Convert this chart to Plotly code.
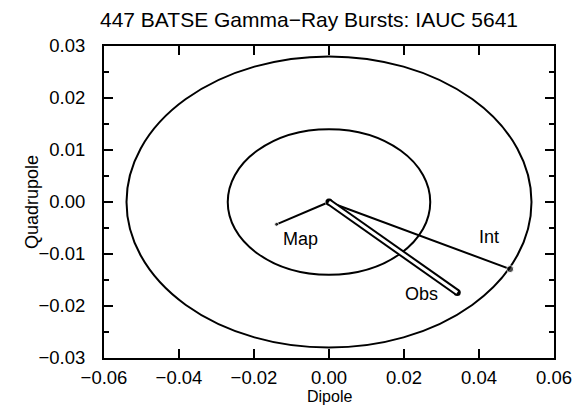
import plotly.graph_objects as go

# Data
origin = [0.0, 0.0]
map_pt = [-0.0140, -0.0043]
int_pt = [0.0483, -0.0129]
obs_pt = [0.0342, -0.0174]
outer_radii = [0.054, 0.028]
inner_radii = [0.027, 0.014]
labels = ["Map", "Int", "Obs"]
label_pos_x = [-0.0077, 0.0427, 0.0247]
label_pos_y = [-0.0072, -0.0067, -0.0176]
x_ticks = [-0.06, -0.04, -0.02, 0.0, 0.02, 0.04, 0.06]
y_ticks = [-0.03, -0.02, -0.01, 0.0, 0.01, 0.02, 0.03]

FONT = "Liberation Sans"
fig = go.Figure()

# Map and Int lines
fig.add_trace(go.Scatter(x=[origin[0], map_pt[0]], y=[origin[1], map_pt[1]], mode="lines+markers",
                         line=dict(color="black", width=2), marker=dict(size=[7, 4], color="black"),
                         showlegend=False, hoverinfo="skip"))
fig.add_trace(go.Scatter(x=[origin[0], int_pt[0]], y=[origin[1], int_pt[1]], mode="lines+markers",
                         line=dict(color="black", width=2), marker=dict(size=[7, 7], color="black"),
                         showlegend=False, hoverinfo="skip"))
# Obs double line
fig.add_trace(go.Scatter(x=[origin[0], obs_pt[0]], y=[origin[1], obs_pt[1]], mode="lines+markers",
                         line=dict(color="black", width=7), marker=dict(size=7, color="black"),
                         showlegend=False, hoverinfo="skip"))
fig.add_trace(go.Scatter(x=[origin[0], obs_pt[0]], y=[origin[1], obs_pt[1]], mode="lines",
                         line=dict(color="white", width=3),
                         showlegend=False, hoverinfo="skip"))

for rx, ry in [outer_radii, inner_radii]:
    fig.add_shape(type="circle", xref="x", yref="y", x0=-rx, x1=rx, y0=-ry, y1=ry,
                  line=dict(color="black", width=2), layer="below")

for t, lx, ly in zip(labels, label_pos_x, label_pos_y):
    fig.add_annotation(x=lx, y=ly, text=t, showarrow=False,
                       font=dict(family=FONT, size=18, color="black"))

# Axis titles
fig.add_annotation(xref="paper", yref="paper", x=0.5, y=0, yshift=-38, yanchor="middle",
                   text="Dipole", showarrow=False, borderpad=0,
                   font=dict(family=FONT, size=16, color="black"))
fig.add_annotation(xref="paper", yref="paper", x=0, y=0.5, xshift=-72, xanchor="center",
                   text="Quadrupole", textangle=-90, showarrow=False, borderpad=0,
                   font=dict(family=FONT, size=18, color="black"))

axis_common = dict(showline=True, linecolor="black", linewidth=2, mirror="ticks",
                   ticks="inside", ticklen=9, tickwidth=1.5, tickcolor="black",
                   showgrid=False, zeroline=False, tickformat=".2f", automargin=False,
                   tickfont=dict(family=FONT, size=18.5, color="black"))

fig.update_xaxes(range=[-0.06, 0.06], tickvals=x_ticks, ticklabelstandoff=2, **axis_common)
fig.update_yaxes(range=[-0.03, 0.03], tickvals=y_ticks, ticklabelstandoff=13,
                 minor=dict(ticks="inside", ticklen=5, tickcolor="black", dtick=0.005, showgrid=False),
                 **axis_common)

fig.update_layout(
    width=576, height=406,
    margin=dict(l=104, r=22, t=46, b=48, autoexpand=False),
    paper_bgcolor="white", plot_bgcolor="white",
    title=dict(text="447 BATSE Gamma\u2212Ray Bursts: IAUC 5641", x=309 / 576, xanchor="center",
               y=1 - 20 / 406, yanchor="middle", xref="container", yref="container",
               font=dict(family=FONT, size=21, color="black")),
)

fig.write_html("out.html", config={"displayModeBar": False},
               post_script="document.body.style.margin='0px';document.body.style.overflow='hidden';")
